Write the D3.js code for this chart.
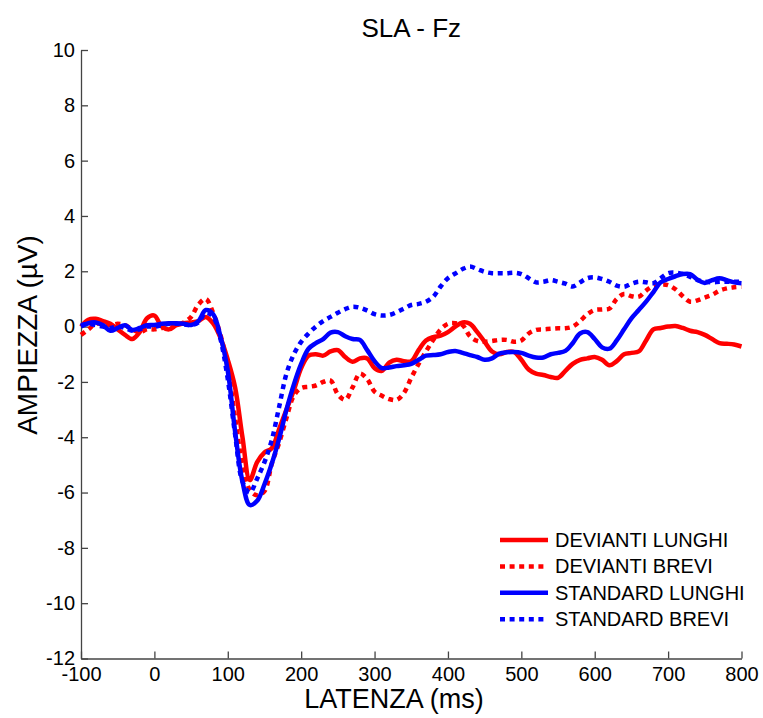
<!DOCTYPE html>
<html>
<head>
<meta charset="utf-8">
<script src="https://cdn.jsdelivr.net/npm/d3@7"></script>
<style>
  body { margin: 0; background: #fff; }
  svg { display: block; font-family: Arial, "Liberation Sans", sans-serif; }
  .axis text { font-size: 20px; fill: #000; }
  .axis path, .axis line { stroke: #444; stroke-width: 1.3; }
</style>
</head>
<body>
<div id="chart"><svg></svg></div>
<script>
// latency in ms, one sample every 10 ms
const latency = d3.range(-100, 801, 10)

const deviantiLunghi = [
  0.0, 0.25, 0.28, 0.2, 0.1, -0.1, -0.3, -0.45, -0.2, 0.3,
  0.4, 0.0, -0.1, 0.05, 0.12, 0.15, 0.2, 0.35, 0.12, -0.4,
  -1.2, -2.2, -4.0, -5.55, -4.9, -4.55, -4.4, -3.7, -3.0, -2.3,
  -1.5, -1.05, -1.0, -1.05, -0.9, -0.85, -1.1, -1.27, -1.15, -1.15,
  -1.5, -1.6, -1.3, -1.2, -1.25, -1.25, -0.85, -0.5, -0.38, -0.33,
  -0.2, 0.0, 0.15, 0.1, -0.2, -0.55, -0.9, -1.0, -0.92, -0.92,
  -1.2, -1.55, -1.7, -1.75, -1.82, -1.85, -1.6, -1.35, -1.2, -1.15,
  -1.1, -1.2, -1.4, -1.25, -1.0, -0.95, -0.9, -0.5, -0.1, -0.05,
  0.0, 0.02, -0.05, -0.15, -0.2, -0.3, -0.45, -0.6, -0.62, -0.65,
  -0.72
]

const deviantiBrevi = [
  -0.3, -0.1, 0.1, 0.1, 0.05, 0.1, 0.05, -0.1, -0.2, -0.1,
  -0.1, -0.05, 0.0, 0.05, 0.15, 0.35, 0.8, 1.0, 0.5, -0.3,
  -1.5, -3.3, -5.0, -5.9, -6.1, -5.95, -4.95, -4.2, -3.3, -2.5,
  -2.22, -2.18, -2.13, -2.0, -1.95, -2.45, -2.65, -2.2, -1.7, -1.9,
  -2.35, -2.5, -2.62, -2.65, -2.4, -1.85, -1.35, -0.9, -0.48, -0.1,
  0.1, 0.12, 0.05, -0.35, -0.52, -0.55, -0.52, -0.48, -0.48, -0.55,
  -0.5, -0.25, -0.12, -0.1, -0.08, -0.06, -0.06, 0.0, 0.2, 0.45,
  0.6, 0.62, 0.65, 1.0, 1.18, 1.1, 1.08, 1.3, 1.48, 1.52,
  1.5, 1.35, 1.1, 0.9, 0.95, 1.05, 1.15, 1.3, 1.38, 1.42,
  1.44
]

const standardLunghi = [
  0.0, 0.12, 0.15, 0.05, -0.15, -0.05, 0.05, -0.12, -0.05, 0.05,
  0.06, 0.1, 0.12, 0.12, 0.1, 0.06, 0.2, 0.6, 0.45, -0.35,
  -1.6, -3.8, -5.6, -6.45, -6.3, -5.7, -4.95, -4.05, -3.0, -2.1,
  -1.35, -0.8, -0.6, -0.45, -0.22, -0.2, -0.35, -0.45, -0.48, -0.85,
  -1.25, -1.5, -1.48, -1.43, -1.4, -1.35, -1.2, -1.05, -1.03, -1.0,
  -0.92, -0.88, -0.95, -1.03, -1.1, -1.2, -1.15, -0.98, -0.93, -0.92,
  -0.95, -1.05, -1.12, -1.12, -1.0, -0.95, -0.88, -0.6, -0.25, -0.2,
  -0.45, -0.75, -0.8, -0.5, -0.1, 0.3, 0.6, 0.9, 1.25, 1.6,
  1.72, 1.82, 1.9, 1.9, 1.7, 1.58, 1.68, 1.75, 1.68, 1.6,
  1.57
]

const standardBrevi = [
  0.05, 0.1, 0.05, 0.0, -0.05, 0.0, -0.05, -0.15, -0.1, 0.0,
  0.0, 0.05, 0.1, 0.1, 0.08, 0.05, 0.15, 0.5, 0.35, -0.45,
  -1.9, -3.9, -5.6, -6.0, -5.5, -4.9, -4.1, -2.9, -1.7, -1.0,
  -0.55, -0.25, 0.0, 0.2, 0.35, 0.5, 0.63, 0.72, 0.68, 0.58,
  0.45, 0.4, 0.42, 0.52, 0.65, 0.78, 0.82, 0.9, 1.08, 1.45,
  1.75, 1.92, 2.08, 2.17, 2.08, 1.98, 1.93, 1.93, 1.93, 1.95,
  1.9, 1.75, 1.6, 1.62, 1.68, 1.62, 1.55, 1.45, 1.6, 1.75,
  1.78, 1.72, 1.62, 1.48, 1.44, 1.55, 1.62, 1.6, 1.57, 1.75,
  1.93, 1.95, 1.9, 1.8, 1.68, 1.62, 1.6, 1.62, 1.62, 1.62,
  1.62
]

const seriesNames = ["DEVIANTI LUNGHI", "DEVIANTI BREVI", "STANDARD LUNGHI", "STANDARD BREVI"]
const seriesValues = [deviantiLunghi, deviantiBrevi, standardLunghi, standardBrevi]
const seriesColors = ["#ff0000", "#ff0000", "#0000ff", "#0000ff"]
const seriesDotted = [false, true, false, true]

const xTicks = [-100, 0, 100, 200, 300, 400, 500, 600, 700, 800]
const yTicks = [-12, -10, -8, -6, -4, -2, 0, 2, 4, 6, 8, 10]

const width = 763
const height = 718
const plotLeft = 81
const plotRight = 741.5
const plotTop = 50
const plotBottom = 658.5

const svg = d3.select("#chart").select("svg")
  .attr("width", width)
  .attr("height", height)

const x = d3.scaleLinear().domain([-100, 800]).range([plotLeft, plotRight])
const y = d3.scaleLinear().domain([-12, 10]).range([plotBottom, plotTop])

// plain hyphen for negatives, like the original figure
const fmt = (d) => String(d)

svg.append("g")
  .attr("class", "axis")
  .attr("transform", `translate(0, ${plotBottom})`)
  .call(d3.axisBottom(x).tickValues(xTicks).tickFormat(fmt).tickSize(-7).tickSizeOuter(0).tickPadding(8))

svg.append("g")
  .attr("class", "axis")
  .attr("transform", `translate(${plotLeft}, 0)`)
  .call(d3.axisLeft(y).tickValues(yTicks).tickFormat(fmt).tickSize(-7).tickSizeOuter(0).tickPadding(6))

const line = d3.line()
  .x((d, i) => x(latency[i]))
  .y((d) => y(d))
  .curve(d3.curveCatmullRom)

seriesValues.forEach((vals, i) => {
  svg.append("path")
    .datum(vals)
    .attr("d", line)
    .attr("fill", "none")
    .attr("stroke", seriesColors[i])
    .attr("stroke-width", 4.5)
    .attr("stroke-linejoin", "round")
    .attr("stroke-dasharray", seriesDotted[i] ? "5,4.6" : null)
})

// title and axis labels
svg.append("text")
  .attr("x", (plotLeft + plotRight) / 2)
  .attr("y", 37)
  .attr("text-anchor", "middle")
  .style("font-size", "26px")
  .text("SLA - Fz")

svg.append("text")
  .attr("x", 394)
  .attr("y", 708)
  .attr("text-anchor", "middle")
  .style("font-size", "27px")
  .text("LATENZA (ms)")

svg.append("text")
  .attr("transform", "translate(37, 335) rotate(-90)")
  .attr("text-anchor", "middle")
  .style("font-size", "28px")
  .text("AMPIEZZA (\u00b5V)")

// legend
const legend = svg.append("g").attr("transform", "translate(500, 540)")
seriesNames.forEach((name, i) => {
  const row = legend.append("g").attr("transform", `translate(0, ${i * 26.4})`)
  row.append("line")
    .attr("x1", 0).attr("x2", 48)
    .attr("stroke", seriesColors[i])
    .attr("stroke-width", 4.5)
    .attr("stroke-dasharray", seriesDotted[i] ? "5,4.6" : null)
  row.append("text")
    .attr("x", 55)
    .attr("y", 7)
    .style("font-size", "20px")
    .text(name)
})
</script>
</body>
</html>
